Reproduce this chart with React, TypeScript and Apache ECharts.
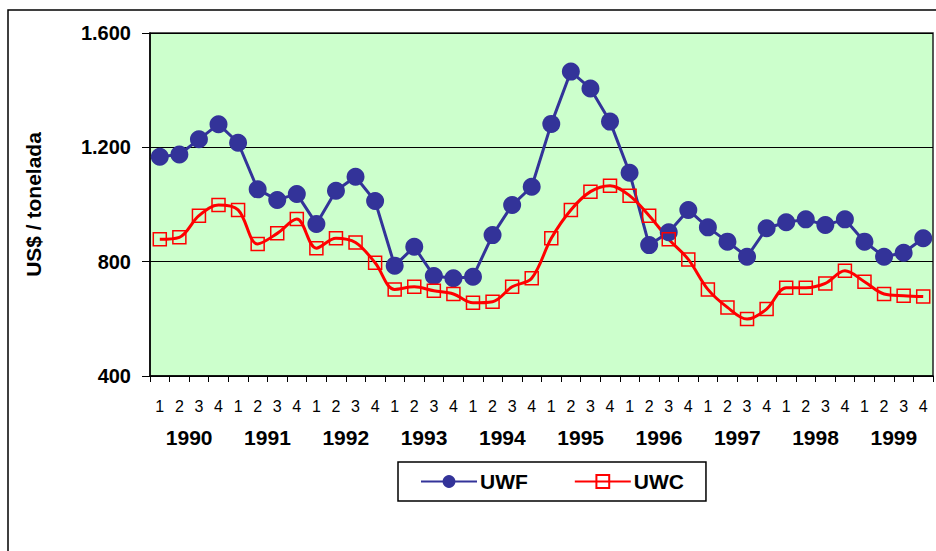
import React, { useEffect, useRef } from "react";
import * as echarts from "echarts";

const quarters = Array.from({ length: 40 }, (_, i) => String((i % 4) + 1));
const years = ["1990", "1991", "1992", "1993", "1994", "1995", "1996", "1997", "1998", "1999"];
const uwf = [1167, 1175, 1228, 1281, 1216, 1053, 1016, 1037, 932, 1048, 1097, 1012, 786, 852, 750, 742, 747, 893, 998, 1062, 1282, 1465, 1406, 1290, 1111, 858, 903, 981, 920, 870, 817, 917, 938, 948, 928, 948, 870, 817, 831, 882];
const uwc = [878, 885, 961, 998, 981, 862, 899, 949, 847, 882, 867, 796, 703, 712, 698, 687, 656, 660, 712, 742, 882, 981, 1045, 1066, 1031, 961, 878, 808, 703, 640, 599, 634, 709, 709, 724, 768, 730, 687, 681, 678];
const yTicks = [400, 800, 1200, 1600];

const FONT = "Arial, 'Liberation Sans', sans-serif";

export default function App() {
  const ref = useRef<HTMLDivElement>(null);
  useEffect(() => {
    if (!ref.current) return;
    const chart = echarts.init(ref.current, undefined, { renderer: "svg" });
    const fmt = (v: number) => (v >= 1000 ? String(v).replace(/(\d)(\d{3})$/, "$1.$2") : String(v));
    chart.setOption({
      animation: false,
      backgroundColor: "#ffffff",
      graphic: [
        {
          type: "rect",
          shape: { x: 8, y: 10, width: 1000, height: 1000 },
          style: { fill: "none", stroke: "#000", lineWidth: 1.5 },
          silent: true,
        },
      ],
      grid: {
        left: 150,
        top: 33,
        right: 3,
        bottom: 175,
        show: true,
        backgroundColor: "#CCFFCC",
        borderColor: "#222",
        borderWidth: 1.5,
      },
      legend: {
        left: 398,
        top: 462,
        padding: [9, 22, 9, 22],
        itemWidth: 56,
        itemHeight: 16,
        itemGap: 46,
        borderColor: "#000",
        borderWidth: 1.5,
        textStyle: { fontFamily: FONT, fontWeight: "bold", fontSize: 21, color: "#000", padding: [0, 0, 0, -2] },
        data: ["UWF", "UWC"],
      },
      xAxis: [
        {
          type: "category",
          data: quarters,
          position: "bottom",
          boundaryGap: true,
          axisLine: { show: true, lineStyle: { color: "#000", width: 1.5 } },
          axisTick: { show: true, alignWithLabel: false, length: 6, lineStyle: { color: "#000", width: 1 } },
          axisLabel: { interval: 0, margin: 22, fontFamily: FONT, fontSize: 16, color: "#000" },
          splitLine: { show: false },
        },
        {
          type: "category",
          data: years,
          position: "bottom",
          boundaryGap: true,
          axisLine: { show: false },
          axisTick: { show: false },
          axisLabel: { interval: 0, margin: 51, fontFamily: FONT, fontSize: 21, fontWeight: "bold", color: "#000" },
          splitLine: { show: false },
        },
      ],
      yAxis: {
        type: "value",
        min: yTicks[0],
        max: yTicks[yTicks.length - 1],
        interval: 400,
        name: "US$ / tonelada",
        nameLocation: "middle",
        nameRotate: 90,
        nameGap: 106,
        nameTextStyle: { fontFamily: FONT, fontSize: 21, fontWeight: "bold", color: "#000" },
        axisLine: { show: true, lineStyle: { color: "#000", width: 1.5 } },
        axisTick: { show: true, length: 8, lineStyle: { color: "#000", width: 1 } },
        axisLabel: { margin: 19, fontFamily: FONT, fontSize: 20, fontWeight: "bold", color: "#000", formatter: fmt },
        splitLine: { show: true, lineStyle: { color: "#000", width: 1 } },
      },
      series: [
        {
          name: "UWF",
          type: "line",
          data: uwf,
          symbol: "circle",
          symbolSize: 18,
          lineStyle: { color: "#333399", width: 3 },
          itemStyle: { color: "#333399" },
        },
        {
          name: "UWC",
          type: "line",
          data: uwc,
          smooth: 0.35,
          symbol: "rect",
          symbolSize: 13,
          lineStyle: { color: "#FF0000", width: 3 },
          itemStyle: { color: "rgba(255,255,255,0)", borderColor: "#FF0000", borderWidth: 1.5 },
        },
      ],
    });
    return () => chart.dispose();
  }, []);
  return <div ref={ref} style={{ position: "fixed", left: 0, top: 0, width: 936, height: 551 }} />;
}
